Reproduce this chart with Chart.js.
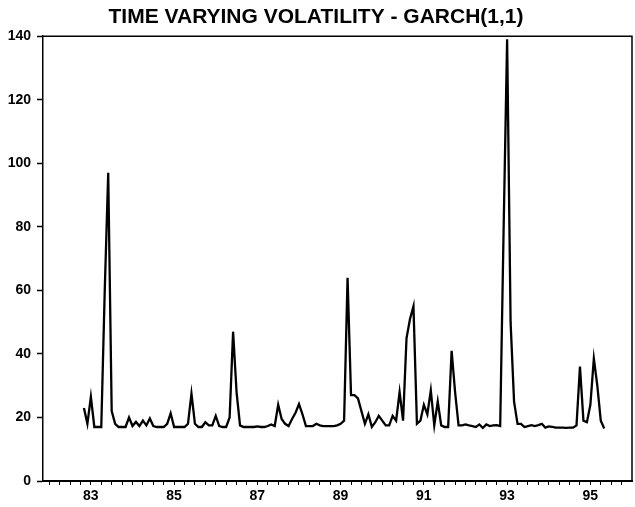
<!DOCTYPE html>
<html>
<head>
<meta charset="utf-8">
<title>Time varying volatility - GARCH(1,1)</title>
<script src="https://cdn.jsdelivr.net/npm/chart.js@4.4.1/dist/chart.umd.min.js"></script>
<style>
  html, body { margin: 0; padding: 0; background: #ffffff; }
  #wrap { width: 635px; height: 507px; position: relative; }
</style>
</head>
<body>
<div id="wrap"><canvas id="volchart"></canvas></div>
<script>
// monthly series, first observation is November 1982
var startYear = 1982;
var startMonth = 11;

// conditional volatility
var volatility = [
    23, 18,
    26.5, 17, 17, 17, 60, 97, 22, 18, 17, 17, 17, 20,           // 1983
    17.3, 18.6, 17.3, 19, 17.5, 19.7, 17.3, 17, 17, 17, 18, 21.3, // 1984
    17, 17, 17, 17, 18, 27.5, 18, 17, 17, 18.5, 17.5, 17.5,     // 1985
    20.5, 17.3, 17, 17, 20, 47, 28, 17.5, 17, 17, 17, 17,       // 1986
    17.2, 17, 17, 17.3, 17.8, 17.3, 24, 19.5, 18, 17.3, 19.5, 21.5, // 1987
    24.2, 21, 17.3, 17.3, 17.3, 18, 17.5, 17.3, 17.3, 17.3, 17.3, 17.5, // 1988
    18, 19, 64, 27, 27, 26, 22, 18, 21, 17, 18.5, 20.5,         // 1989
    19, 17.5, 17.5, 20.5, 19, 28, 19, 45, 51, 55, 18, 19,       // 1990
    24, 21, 28.5, 17.5, 25, 17.5, 17, 17, 41, 28, 17.5, 17.5,   // 1991
    17.8, 17.5, 17.3, 17, 17.8, 16.7, 17.8, 17.3, 17.5, 17.6, 17.3, 80, // 1992
    139, 50, 25, 18, 18, 17, 17.3, 17.6, 17.3, 17.6, 18, 16.8,  // 1993
    17.2, 17, 16.8, 16.8, 16.8, 16.7, 16.8, 16.8, 17.5, 36, 19, 18.5, // 1994
    24, 38.5, 30, 19, 16.5                                      // 1995
];

// years that carry a label on the time axis
var tickYears = [83, 85, 87, 89, 91, 93, 95];
var yTicks = [0, 20, 40, 60, 80, 100, 120, 140];

var points = volatility.map(function (v, i) {
    var m = startMonth - 1 + i;
    return { x: startYear + m / 12, y: v };
});

var fontFamily = "'Liberation Sans', Arial, sans-serif";

// draws the top and right edges of the plot box
var frame = {
    id: "frame",
    afterDraw: function (chart) {
        var a = chart.chartArea;
        var ctx = chart.ctx;
        ctx.save();
        ctx.strokeStyle = "#000";
        ctx.lineWidth = 1.5;
        ctx.beginPath();
        ctx.moveTo(a.left, a.top);
        ctx.lineTo(a.right, a.top);
        ctx.lineTo(a.right, a.bottom);
        ctx.stroke();
        ctx.restore();
    }
};

function main() {
    new Chart(document.getElementById("volchart"), {
        type: "line",
        data: {
            datasets: [{
                label: "GARCH(1,1) volatility",
                data: points,
                borderColor: "#000",
                borderWidth: 2.3,
                pointRadius: 0,
                tension: 0,
                fill: false
            }]
        },
        options: {
            responsive: true,
            maintainAspectRatio: false,
            animation: false,
            layout: { padding: { top: 0, right: 3, bottom: 0, left: 0 } },
            plugins: {
                legend: { display: false },
                tooltip: { enabled: false },
                title: {
                    display: true,
                    text: "TIME VARYING VOLATILITY - GARCH(1,1)",
                    color: "#000",
                    font: { family: fontFamily, size: 21, weight: "bold" },
                    padding: { top: 5, bottom: 6 }
                }
            },
            scales: {
                x: {
                    type: "linear",
                    min: 1981.85,
                    max: 1996.0,
                    afterBuildTicks: function (scale) {
                        var t = [];
                        for (var q = 0; q < 56; q++) t.push({ value: 1982 + q * 0.25 });
                        scale.ticks = t;
                    },
                    afterFit: function (scale) { scale.height = 26; },
                    grid: {
                        drawOnChartArea: false,
                        color: "#000",
                        tickLength: 4,
                        tickWidth: 1
                    },
                    border: { display: true, color: "#000", width: 2 },
                    ticks: {
                        autoSkip: false,
                        maxRotation: 0,
                        padding: 3,
                        color: "#000",
                        font: { family: fontFamily, size: 14, weight: "bold" },
                        callback: function (value) {
                            if (!Number.isInteger(value)) return "";
                            var yy = value % 100;
                            return tickYears.indexOf(yy) >= 0 ? String(yy) : "";
                        }
                    }
                },
                y: {
                    min: 0,
                    max: 140,
                    afterBuildTicks: function (scale) {
                        scale.ticks = yTicks.map(function (v) { return { value: v }; });
                    },
                    afterFit: function (scale) { scale.width = 43; },
                    grid: {
                        drawOnChartArea: false,
                        color: "#000",
                        tickLength: 6,
                        tickWidth: 1.5
                    },
                    border: { display: true, color: "#000", width: 1.5 },
                    ticks: {
                        padding: 6,
                        color: "#000",
                        font: { family: fontFamily, size: 14, weight: "bold" }
                    }
                }
            }
        },
        plugins: [frame]
    });
}

main();
</script>
</body>
</html>
